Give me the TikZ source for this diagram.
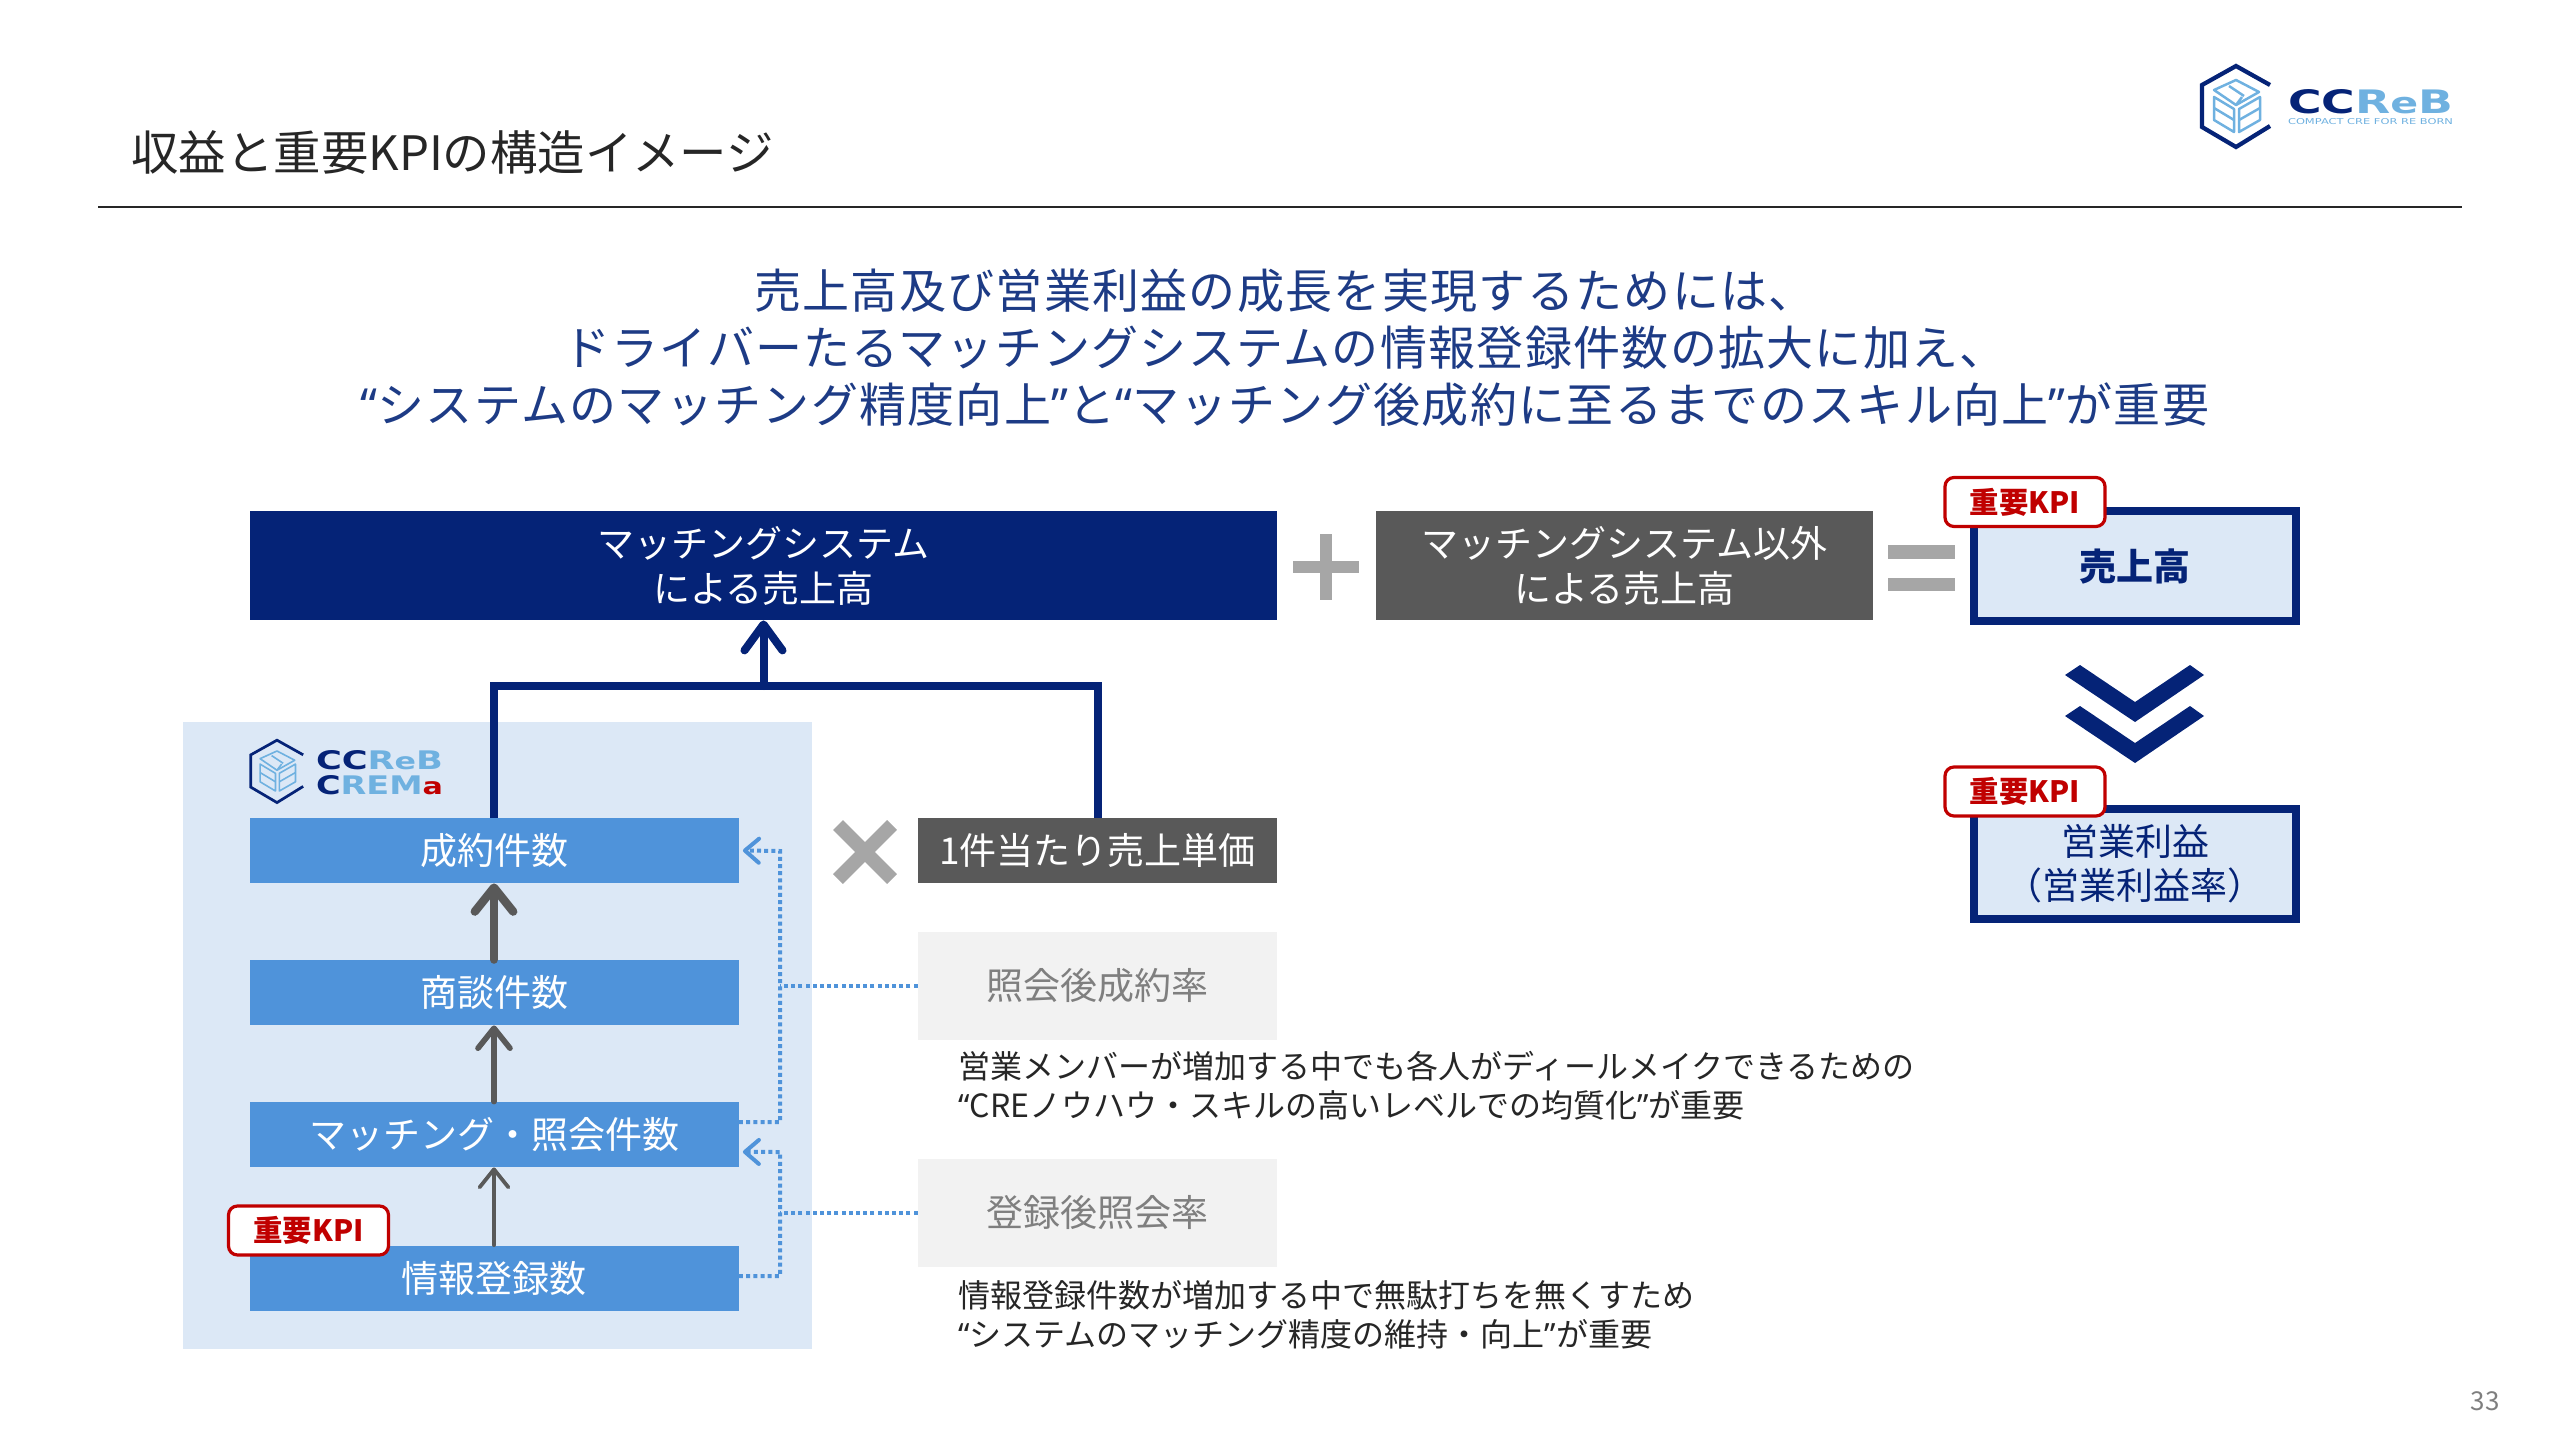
\documentclass[tikz,border=0pt]{standalone}
\usepackage{fontspec}
\usepackage{graphicx}
\setmainfont{Noto Sans CJK JP}
\newfontfamily\quotefont{Noto Sans}
\newfontfamily\logofont{DejaVu Sans}
\usetikzlibrary{arrows.meta}
\definecolor{navyc}{HTML}{052377}
\definecolor{headc}{HTML}{1D3B85}
\definecolor{skyc}{HTML}{6FB1E0}
\definecolor{barc}{HTML}{4F93DA}
\definecolor{panelc}{HTML}{DCE8F6}
\definecolor{darkc}{HTML}{595959}
\definecolor{markc}{HTML}{A6A6A6}
\definecolor{softc}{HTML}{F2F2F2}
\definecolor{softtextc}{HTML}{7F7F7F}
\definecolor{kpic}{HTML}{C00000}
\newcommand{\oq}{{\quotefont “}}
\newcommand{\cq}{{\quotefont ”}}
\newcommand{\fpt}[2]{\fontsize{#1}{#2}\selectfont}
\tikzset{
  navybox/.style={fill=navyc,text=white,inner sep=0,minimum width=513.5pt,minimum height=54.5pt,align=center,font=\fpt{18.5pt}{22.5pt}},
  darkbox/.style={fill=darkc,text=white,inner sep=0,align=center,font=\fpt{18.5pt}{22.5pt}},
  barbox/.style={fill=barc,text=white,inner sep=0,minimum width=244.5pt,minimum height=32.5pt,font=\fpt{18.5pt}{22pt}},
  softbox/.style={fill=softc,text=softtextc,inner sep=0,minimum width=179.5pt,minimum height=54pt,font=\fpt{18.5pt}{22pt}},
  resultbox/.style={draw=navyc,line width=4pt,fill=panelc,text=navyc,inner sep=0,minimum width=161pt,minimum height=55pt,align=center,font=\fpt{18.5pt}{22pt}},
  kpibadge/.style={draw=kpic,line width=1.6pt,fill=white,text=kpic,rounded corners=4.5pt,inner sep=0,minimum width=80pt,minimum height=24.5pt,font=\fpt{14.7pt}{18pt}\bfseries},
  note/.style={anchor=west,inner sep=0,text=black!85,font=\fpt{16pt}{20pt}},
  heading/.style={text=headc,inner sep=0,font=\fpt{23.5pt}{28pt}\addfontfeature{LetterSpace=2.8}},
  upline/.style={darkc,line cap=round,-{Straight Barb[length=#1,width=#1*1.6,round]}},
  treeline/.style={navyc,line width=4pt},
  dotline/.style={barc,line width=2pt,dash pattern=on 2pt off 1.6pt},
  hexlogo/.pic={
    \draw[navyc,line width=#1*1.7] (34,-21) -- (0,-40) -- (-34,-21) -- (-34,21) -- (0,41) -- (34,20);
    \draw[skyc,line width=#1,line join=round] (-22,-16) -- (0,-26) -- (23,-14) -- (0,-1) -- cycle;
    \draw[skyc,line width=#1,line join=round] (-22,-9) -- (-2,3) -- (-2,26) -- (-22,14) -- cycle;
    \draw[skyc,line width=#1,line join=round] (3,3) -- (24,-9) -- (24,14) -- (3,26) -- cycle;
    \draw[skyc,line width=#1] (-22,2) -- (-2,14);
    \draw[skyc,line width=#1] (3,14) -- (24,2);
    \draw[skyc,line width=#1] (-7,-20) -- (8,-10);
    \draw[skyc,line width=#1] (0,-1) -- (6,-9);
  }
}
\begin{document}
\begin{tikzpicture}[x=0.5pt,y=-0.5pt]
  \useasboundingbox (0,0) rectangle (2560,1440);
  \node[anchor=west,inner sep=0,text=black!85,font=\fpt{23.7pt}{28pt}] (title) at (131,152) {収益と重要KPIの構造イメージ};
  \coordinate (ruleL) at (98,207);
  \coordinate (ruleR) at (2462,207);
  \draw[line width=1.2pt,black!85] (ruleL) -- (ruleR);
  \pic at (2236,106) {hexlogo=1.25pt};
  \node[inner sep=0] (toplogo) at (2370.5,102) {\resizebox{82.5pt}{12pt}{\logofont\bfseries\textcolor{navyc}{CC}\textcolor{skyc}{R{\small e}B}}};
  \node[inner sep=0,text=skyc] (topsub) at (2370.5,122) {\resizebox{82.5pt}{3pt}{\logofont COMPACT CRE FOR RE BORN}};
  \node[heading] (headA) at (1285,291) {売上高及び営業利益の成長を実現するためには、};
  \node[heading] (headB) at (1285,348) {ドライバーたるマッチングシステムの情報登録件数の拡大に加え、};
  \node[heading] (headC) at (1285,405) {\oq システムのマッチング精度向上\cq と\oq マッチング後成約に至るまでのスキル向上\cq が重要};

  \node[fill=panelc,inner sep=0,minimum width=314.5pt,minimum height=313.5pt] (panel) at (497.5,1035.5) {};
  \pic[scale=0.77] at (277,771) {hexlogo=0.8pt};
  \node[inner sep=0] (crebA) at (379.5,760.5) {\resizebox{63.5pt}{9.5pt}{\logofont\bfseries\textcolor{navyc}{CC}\textcolor{skyc}{R{\small e}B}}};
  \node[inner sep=0] (crebB) at (379.5,785.5) {\resizebox{63.5pt}{9.5pt}{\logofont\bfseries\textcolor{navyc}{C}\textcolor{skyc}{REM}\textcolor{kpic}{\small a}}};

  \node[navybox] (sys) at (763.5,565.5) {マッチングシステム\\による売上高};
  \node[darkbox,minimum width=248.5pt,minimum height=54.5pt] (other) at (1624.5,565.5) {マッチングシステム以外\\による売上高};
  \node[resultbox,font=\fpt{18.5pt}{22pt}\bfseries] (sales) at (2135,566) {売上高};
  \node[resultbox] (profit) at (2135,864) {営業利益\\（営業利益率）};
  \node[barbox] (deal) at (494,850.5) {成約件数};
  \node[barbox] (nego) at (494,992.5) {商談件数};
  \node[barbox] (match) at (494,1134.5) {マッチング・照会件数};
  \node[barbox] (info) at (494,1278) {情報登録数};
  \node[darkbox,minimum width=179.5pt,minimum height=32.5pt] (unit) at (1097.5,850.5) {1件当たり売上単価};
  \node[softbox] (check) at (1097.5,986) {照会後成約率};
  \node[softbox] (reg) at (1097.5,1213) {登録後照会率};
  \node[note] (noteA) at (958,1066) {営業メンバーが増加する中でも各人がディールメイクできるための};
  \node[note] (noteB) at (958,1105) {\oq CREノウハウ・スキルの高いレベルでの均質化\cq が重要};
  \node[note] (noteC) at (958,1295) {情報登録件数が増加する中で無駄打ちを無くすため};
  \node[note] (noteD) at (958,1334) {\oq システムのマッチング精度の維持・向上\cq が重要};

  \coordinate (busT) at (763.5,686);
  \draw[treeline] (deal.north) |- (busT) -| (unit.north);
  \draw[treeline,line cap=round,-{Straight Barb[length=13pt,width=19pt,round]}] (busT) -- (sys.south);
  \draw[upline=12pt,line width=4.2pt] (nego.north) -- (deal.south);
  \draw[upline=10pt,line width=2.8pt] (match.north) -- (nego.south);
  \draw[upline=9pt,line width=1.9pt] (info.north) -- (match.south);

  \coordinate (busA) at (780,851);
  \coordinate (busB) at (780,1152);
  \draw[dotline,-{Straight Barb[length=7pt,width=12pt,round]}] ([yshift=6.2pt]match.east) -| (busA) -- ([xshift=2pt]deal.east);
  \draw[dotline,-{Straight Barb[length=7pt,width=12pt,round]}] ([yshift=1pt]info.east) -| (busB) -- ([xshift=2pt,yshift=-8.7pt]match.east);
  \draw[dotline] (check.west) -- (check.west -| busA);
  \draw[dotline] (reg.west) -- (reg.west -| busA);

  \node[kpibadge] (kpiA) at (2025,502) {重要KPI};
  \node[kpibadge] (kpiB) at (2025,791.5) {重要KPI};
  \node[kpibadge] (kpiC) at (308.5,1230.5) {重要KPI};

  \fill[markc] (1320,534) rectangle (1332,600);
  \fill[markc] (1293,561) rectangle (1359,573);
  \fill[markc] (1888,545) rectangle (1955,559);
  \fill[markc] (1888,578) rectangle (1955,591);
  \draw[markc,line width=7pt] (838,825) -- (892,879);
  \draw[markc,line width=7pt] (892,825) -- (838,879);
  \fill[navyc] (2065,675) -- (2080,665) -- (2135,702) -- (2190,665) -- (2204,675) -- (2135,722) -- cycle;
  \fill[navyc] (2065,716) -- (2080,706) -- (2135,743) -- (2190,706) -- (2204,716) -- (2135,763) -- cycle;
  \node[inner sep=0,text=softtextc,font=\fpt{13pt}{16pt}] (pageno) at (2485,1401) {33};
\end{tikzpicture}
\end{document}
